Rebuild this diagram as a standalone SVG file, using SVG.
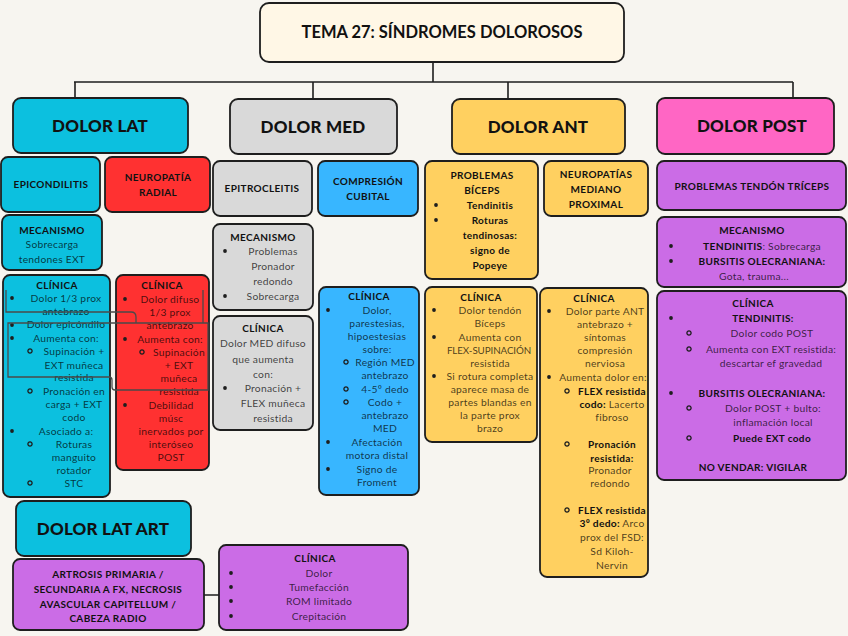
<svg xmlns="http://www.w3.org/2000/svg" width="848" height="636" viewBox="0 0 848 636">
<defs>
<style>
.bx{stroke:#1e1e1e;stroke-width:1.8}
.cy{fill:#0cc0df}.rd{fill:#ff3131}.gr{fill:#d9d9d9}.bl{fill:#38b6ff}.ye{fill:#ffd060}.pk{fill:#ff66c4}.pu{fill:#cb6ce6}
text{font-family:Lato,"Liberation Sans",sans-serif;text-anchor:middle}
.h{font-size:17px;font-weight:900;fill:#111;letter-spacing:.2px}
.b{font-size:10px;font-weight:bold;fill:#111;letter-spacing:.35px}
.t{font-size:10.3px;fill:#000;fill-opacity:.72;letter-spacing:.25px}
.t tspan.k{font-weight:bold;fill-opacity:1;fill:#111}
.d{fill:#1e1e1e}
.o{fill:none;stroke:#1e1e1e;stroke-width:1.3}
.cn{fill:none;stroke:#1e1e1e;stroke-width:1.6}
.ar{fill:none;stroke:#4a4a4a;stroke-width:1.3}
</style>
<circle id="dot" r="1.9" class="d"/>
<circle id="ring" r="2.1" class="o"/>
</defs>
<rect width="848" height="636" fill="#f7f5f0"/>

<g id="connectors">
<path class="cn" d="M433,62V82M74,82H793M75,82V98M313,82V99M508,82V99M793,82V98M204,595H219"/>
</g>

<g id="title">
<rect class="bx" x="260" y="3" width="364" height="59" rx="9" fill="#fff7e6"/>
<text x="442" y="38" style="font-size:16.5px;font-weight:bold;fill:#111;letter-spacing:0px">TEMA 27: SÍNDROMES DOLOROSOS</text>
</g>

<g id="dolor-lat">
<rect class="bx cy" x="13" y="98" width="175" height="55" rx="8"/>
<text class="h" x="100" y="132">DOLOR LAT</text>
</g>
<g id="dolor-med">
<rect class="bx gr" x="230" y="99" width="167" height="55" rx="8"/>
<text class="h" x="313" y="133">DOLOR MED</text>
</g>
<g id="dolor-ant">
<rect class="bx ye" x="452" y="99" width="173" height="55" rx="8"/>
<text class="h" x="538" y="133">DOLOR ANT</text>
</g>
<g id="dolor-post">
<rect class="bx pk" x="657" y="98" width="177" height="56" rx="8"/>
<text class="h" x="752" y="132">DOLOR POST</text>
</g>

<g id="epicondilitis">
<rect class="bx cy" x="1" y="157" width="99" height="55" rx="7"/>
<text class="b" x="51" y="188">EPICONDILITIS</text>
</g>
<g id="neuropatia-radial">
<rect class="bx rd" x="105" y="157" width="105" height="55" rx="7"/>
<text class="b" x="158" y="181">NEUROPATÍA</text>
<text class="b" x="158" y="196">RADIAL</text>
</g>
<g id="mecanismo-lat">
<rect class="bx cy" x="2" y="215" width="100" height="55" rx="7"/>
<text class="b" x="52" y="234">MECANISMO</text>
<text class="t" x="52" y="248">Sobrecarga</text>
<text class="t" x="52" y="263">tendones EXT</text>
</g>
<g id="clinica-lat">
<rect class="bx cy" x="3" y="275" width="107" height="222" rx="7"/>
<text class="b" x="57" y="289">CLÍNICA</text>
<use href="#dot" x="12" y="298"/>
<text class="t" x="66" y="302">Dolor 1/3 prox</text>
<text class="t" x="66" y="315">antebrazo</text>
<use href="#dot" x="12" y="325"/>
<text class="t" x="66" y="328">Dolor epicóndilo</text>
<use href="#dot" x="12" y="338"/>
<text class="t" x="66" y="342">Aumenta con:</text>
<use href="#ring" x="30" y="351"/>
<text class="t" x="74" y="355">Supinación +</text>
<text class="t" x="74" y="369">EXT muñeca</text>
<text class="t" x="74" y="381">resistida</text>
<use href="#ring" x="30" y="391"/>
<text class="t" x="74" y="395">Pronación en</text>
<text class="t" x="74" y="408">carga + EXT</text>
<text class="t" x="74" y="421">codo</text>
<use href="#dot" x="12" y="431"/>
<text class="t" x="66" y="435">Asociado a:</text>
<use href="#ring" x="30" y="444"/>
<text class="t" x="74" y="448">Roturas</text>
<text class="t" x="74" y="461">manguito</text>
<text class="t" x="74" y="474">rotador</text>
<use href="#ring" x="30" y="483"/>
<text class="t" x="74" y="487">STC</text>
</g>
<g id="clinica-radial">
<rect class="bx rd" x="116" y="275" width="93" height="195" rx="7"/>
<text class="b" x="162" y="289">CLÍNICA</text>
<use href="#dot" x="125" y="299"/>
<text class="t" x="170" y="303">Dolor difuso</text>
<text class="t" x="170" y="316">1/3 prox</text>
<text class="t" x="170" y="329">antebrazo</text>
<use href="#dot" x="125" y="339"/>
<text class="t" x="170" y="343">Aumenta con:</text>
<use href="#ring" x="142" y="352"/>
<text class="t" x="179" y="356">Supinación</text>
<text class="t" x="179" y="369">+ EXT</text>
<text class="t" x="179" y="382">muñeca</text>
<text class="t" x="179" y="395">resistida</text>
<use href="#dot" x="125" y="405"/>
<text class="t" x="171" y="409">Debilidad</text>
<text class="t" x="171" y="422">músc</text>
<text class="t" x="171" y="435">inervados por</text>
<text class="t" x="171" y="448">interóseo</text>
<text class="t" x="171" y="461">POST</text>
</g>

<g id="epitrocleitis">
<rect class="bx gr" x="213" y="161" width="99" height="55" rx="7"/>
<text class="b" x="262" y="192">EPITROCLEITIS</text>
</g>
<g id="compresion-cubital">
<rect class="bx bl" x="318" y="161" width="100" height="55" rx="7"/>
<text class="b" x="368" y="185">COMPRESIÓN</text>
<text class="b" x="368" y="200">CUBITAL</text>
</g>
<g id="mecanismo-med">
<rect class="bx gr" x="213" y="224" width="100" height="86" rx="7"/>
<text class="b" x="263" y="241">MECANISMO</text>
<use href="#dot" x="225" y="251"/>
<text class="t" x="273" y="255">Problemas</text>
<text class="t" x="273" y="270">Pronador</text>
<text class="t" x="273" y="285">redondo</text>
<use href="#dot" x="225" y="296"/>
<text class="t" x="273" y="300">Sobrecarga</text>
</g>
<g id="clinica-epitro">
<rect class="bx gr" x="213" y="316" width="100" height="114" rx="7"/>
<text class="b" x="263" y="332">CLÍNICA</text>
<text class="t" x="263" y="347">Dolor MED difuso</text>
<text class="t" x="263" y="363">que aumenta</text>
<text class="t" x="263" y="378">con:</text>
<use href="#dot" x="225" y="388"/>
<text class="t" x="273" y="392">Pronación +</text>
<text class="t" x="273" y="407">FLEX muñeca</text>
<text class="t" x="273" y="422">resistida</text>
</g>
<g id="clinica-cubital">
<rect class="bx bl" x="319" y="287" width="100" height="208" rx="7"/>
<text class="b" x="369" y="300">CLÍNICA</text>
<use href="#dot" x="328" y="310"/>
<text class="t" x="377" y="314">Dolor,</text>
<text class="t" x="377" y="327">parestesias,</text>
<text class="t" x="377" y="340">hipoestesias</text>
<text class="t" x="377" y="353">sobre:</text>
<use href="#ring" x="346" y="362"/>
<text class="t" x="385" y="366">Región MED</text>
<text class="t" x="385" y="379">antebrazo</text>
<use href="#ring" x="346" y="389"/>
<text class="t" x="385" y="393">4-5º dedo</text>
<use href="#ring" x="346" y="402"/>
<text class="t" x="385" y="406">Codo +</text>
<text class="t" x="385" y="419">antebrazo</text>
<text class="t" x="385" y="432">MED</text>
<use href="#dot" x="328" y="442"/>
<text class="t" x="377" y="446">Afectación</text>
<text class="t" x="377" y="459">motora distal</text>
<use href="#dot" x="328" y="469"/>
<text class="t" x="377" y="473">Signo de</text>
<text class="t" x="377" y="486">Froment</text>
</g>

<g id="problemas-biceps">
<rect class="bx ye" x="425" y="161" width="113" height="118" rx="7"/>
<text class="b" x="482" y="179">PROBLEMAS</text>
<text class="b" x="482" y="194">BÍCEPS</text>
<use href="#dot" x="436" y="205"/>
<text class="b" x="490" y="209">Tendinitis</text>
<use href="#dot" x="436" y="220"/>
<text class="b" x="490" y="224">Roturas</text>
<text class="b" x="490" y="239">tendinosas:</text>
<text class="b" x="490" y="254">signo de</text>
<text class="b" x="490" y="269">Popeye</text>
</g>
<g id="neuropatias-mediano">
<rect class="bx ye" x="544" y="161" width="104" height="55" rx="7"/>
<text class="b" x="596" y="178">NEUROPATÍAS</text>
<text class="b" x="596" y="193">MEDIANO</text>
<text class="b" x="596" y="208">PROXIMAL</text>
</g>
<g id="clinica-biceps">
<rect class="bx ye" x="425" y="287" width="112" height="155" rx="7"/>
<text class="b" x="481" y="301">CLÍNICA</text>
<use href="#dot" x="434" y="310"/>
<text class="t" x="490" y="314">Dolor tendón</text>
<text class="t" x="490" y="327">Bíceps</text>
<use href="#dot" x="434" y="337"/>
<text class="t" x="490" y="341">Aumenta con</text>
<text class="t" x="489" y="354" style="letter-spacing:-0.1px;font-size:9.8px">FLEX-SUPINACIÓN</text>
<text class="t" x="490" y="367">resistida</text>
<use href="#dot" x="434" y="376"/>
<text class="t" x="490" y="380">Si rotura completa</text>
<text class="t" x="490" y="393">aparece masa de</text>
<text class="t" x="490" y="406">partes blandas en</text>
<text class="t" x="490" y="419">la parte prox</text>
<text class="t" x="490" y="432">brazo</text>
</g>
<g id="clinica-mediano">
<rect class="bx ye" x="540" y="288" width="108" height="289" rx="7"/>
<text class="b" x="594" y="302">CLÍNICA</text>
<use href="#dot" x="549" y="311"/>
<text class="t" x="605" y="315">Dolor parte ANT</text>
<text class="t" x="605" y="328">antebrazo +</text>
<text class="t" x="605" y="341">síntomas</text>
<text class="t" x="605" y="354">compresión</text>
<text class="t" x="605" y="367">nerviosa</text>
<use href="#dot" x="549" y="377"/>
<text class="t" x="603" y="381">Aumenta dolor en:</text>
<use href="#ring" x="567" y="391"/>
<text class="b" x="612" y="395">FLEX resistida</text>
<text class="t" x="612" y="408"><tspan class="k">codo:</tspan> Lacerto</text>
<text class="t" x="612" y="421">fibroso</text>
<use href="#ring" x="567" y="444"/>
<text class="b" x="612" y="448">Pronación</text>
<text class="b" x="612" y="462">resistida:</text>
<text class="t" x="610" y="474">Pronador</text>
<text class="t" x="610" y="487">redondo</text>
<use href="#ring" x="567" y="510"/>
<text class="b" x="612" y="514">FLEX resistida</text>
<text class="t" x="612" y="527"><tspan class="k">3º dedo:</tspan> Arco</text>
<text class="t" x="612" y="541">prox del FSD:</text>
<text class="t" x="612" y="555">Sd Kiloh-</text>
<text class="t" x="612" y="569">Nervin</text>
</g>

<g id="problemas-triceps">
<rect class="bx pu" x="657" y="161" width="189" height="49" rx="7"/>
<text class="b" x="752" y="190">PROBLEMAS TENDÓN TRÍCEPS</text>
</g>
<g id="mecanismo-post">
<rect class="bx pu" x="657" y="217" width="189" height="70" rx="7"/>
<text class="b" x="752" y="234">MECANISMO</text>
<use href="#dot" x="671" y="246"/>
<text class="t" x="762" y="250"><tspan class="k">TENDINITIS</tspan>: Sobrecarga</text>
<use href="#dot" x="671" y="261"/>
<text class="b" x="762" y="265">BURSITIS OLECRANIANA:</text>
<text class="t" x="754" y="280">Gota, trauma...</text>
</g>
<g id="clinica-post">
<rect class="bx pu" x="657" y="291" width="189" height="189" rx="7"/>
<text class="b" x="753" y="307">CLÍNICA</text>
<use href="#dot" x="671" y="318"/>
<text class="b" x="763" y="322">TENDINITIS:</text>
<use href="#ring" x="689" y="333"/>
<text class="t" x="772" y="337">Dolor codo POST</text>
<use href="#ring" x="689" y="349"/>
<text class="t" x="771" y="353">Aumenta con EXT resistida:</text>
<text class="t" x="771" y="367">descartar ef gravedad</text>
<use href="#dot" x="671" y="393"/>
<text class="b" x="762" y="397">BURSITIS OLECRANIANA:</text>
<use href="#ring" x="689" y="408"/>
<text class="t" x="773" y="412">Dolor POST + bulto:</text>
<text class="t" x="773" y="426">inflamación local</text>
<use href="#ring" x="689" y="438"/>
<text class="b" x="772" y="442">Puede EXT codo</text>
<text class="b" x="753" y="471">NO VENDAR: VIGILAR</text>
</g>

<g id="dolor-lat-art">
<rect class="bx cy" x="16" y="501" width="175" height="55" rx="8"/>
<text class="h" x="103" y="535">DOLOR LAT ART</text>
</g>
<g id="artrosis">
<rect class="bx pu" x="13" y="559" width="191" height="71" rx="7"/>
<text class="b" x="108" y="578">ARTROSIS PRIMARIA /</text>
<text class="b" x="108" y="593">SECUNDARIA A FX, NECROSIS</text>
<text class="b" x="108" y="608">AVASCULAR CAPITELLUM /</text>
<text class="b" x="108" y="622">CABEZA RADIO</text>
</g>
<g id="clinica-art">
<rect class="bx pu" x="219" y="545" width="189" height="85" rx="7"/>
<text class="b" x="315" y="562">CLÍNICA</text>
<use href="#dot" x="231" y="573"/>
<text class="t" x="319" y="577">Dolor</text>
<use href="#dot" x="231" y="587"/>
<text class="t" x="319" y="591">Tumefacción</text>
<use href="#dot" x="231" y="601"/>
<text class="t" x="319" y="605">ROM limitado</text>
<use href="#dot" x="231" y="616"/>
<text class="t" x="319" y="620">Crepitación</text>
</g>

<g id="overlay-lines">
<path class="ar" d="M6,290V312H131Q136,312 136,317V323M8,323H208V390H115Q112,390 112,387V380Q112,377 109,377H8ZM203,290V323"/>
</g>
</svg>
